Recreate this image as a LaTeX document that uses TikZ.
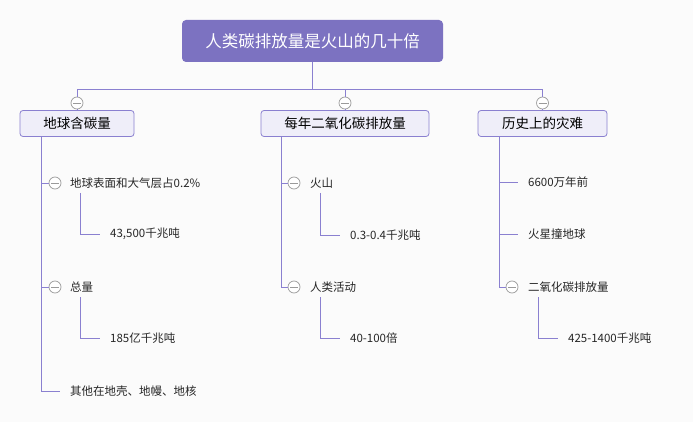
\documentclass[tikz,border=0pt]{standalone}
\usepackage{fontspec}
\setmainfont{Noto Sans CJK SC}
\definecolor{bgc}{HTML}{FBFBFB}
\definecolor{rootc}{HTML}{7C72C1}
\definecolor{linec}{HTML}{8A80D0}
\definecolor{boxf}{HTML}{EFEEF9}
\definecolor{togc}{HTML}{9A9A9A}
\tikzset{
  rootbox/.style={rectangle, rounded corners=4pt, fill=rootc, text=white, minimum width=261pt, minimum height=42pt, inner sep=0pt, font=\fontsize{16.5}{18}\selectfont},
  lvbox/.style={rectangle, rounded corners=3pt, fill=boxf, draw=linec, line width=0.8pt, minimum height=26pt, inner sep=0pt, font=\fontsize{13.5}{15}\selectfont},
  itm/.style={anchor=west, inner sep=0pt, font=\fontsize{11.5}{13}\selectfont, text=black!85},
  tog/.style={circle, draw=togc, fill=white, line width=0.7pt, minimum size=12pt, inner sep=0pt,
    path picture={\draw[togc, line width=0.7pt] ([xshift=-4pt]path picture bounding box.center) -- ([xshift=4pt]path picture bounding box.center);}},
  conn/.style={draw=linec, line width=0.9pt}
}
\begin{document}
\begin{tikzpicture}[x=1pt,y=-1pt]
\fill[bgc] (0,0) rectangle (693,422);
\useasboundingbox (0,0) rectangle (693,422);

\node[rootbox] (root) at (312.5,41) {人类碳排放量是火山的几十倍};

\node[lvbox, minimum width=114pt] (b1) at (77,123.5) {地球含碳量};
\node[lvbox, minimum width=168pt] (b2) at (345,123.5) {每年二氧化碳排放量};
\node[lvbox, minimum width=129pt] (b3) at (542.5,123.5) {历史上的灾难};

\node[tog] (tg1) at (77,103) {};
\node[tog] (tg2) at (345,103) {};
\node[tog] (tg3) at (542.5,103) {};

\draw[conn] (tg1.north) -- ++(0,-7) -| (root.south);
\draw[conn] (tg2.north) -- ++(0,-7) -| (root.south);
\draw[conn] (tg3.north) -- ++(0,-7) -| (root.south);
\draw[conn] (tg1.south) -- (b1.north);
\draw[conn] (tg2.south) -- (b2.north);
\draw[conn] (tg3.south) -- (b3.north);

% column 1
\coordinate (t1) at (41,136.5);
\node[tog] (tg11) at (55,183) {};
\node[itm] (n11) at (70,183) {地球表面和大气层占0.2\%};
\node[itm] (n12) at (110,234) {43,500千兆吨};
\node[tog] (tg13) at (55,287) {};
\node[itm] (n13) at (70,287) {总量};
\node[itm] (n14) at (110,338) {185亿千兆吨};
\node[itm] (n15) at (70,391) {其他在地壳、地幔、地核};
\coordinate (s11) at (80,193);
\coordinate (s13) at (80,297);
\draw[conn] (t1) |- (tg11.west);
\draw[conn] (t1) |- (tg13.west);
\draw[conn] (t1) |- ([xshift=-10pt]n15.west);
\draw[conn] (s11) |- ([xshift=-10pt]n12.west);
\draw[conn] (s13) |- ([xshift=-10pt]n14.west);

% column 2
\coordinate (t2) at (281,136.5);
\node[tog] (tg21) at (294,183) {};
\node[itm] (n21) at (310,183) {火山};
\node[itm] (n22) at (350,235) {0.3-0.4千兆吨};
\node[tog] (tg23) at (294,287) {};
\node[itm] (n23) at (310,287) {人类活动};
\node[itm] (n24) at (350,338) {40-100倍};
\coordinate (s21) at (320,193);
\coordinate (s23) at (320,297);
\draw[conn] (t2) |- (tg21.west);
\draw[conn] (t2) |- (tg23.west);
\draw[conn] (s21) |- ([xshift=-10pt]n22.west);
\draw[conn] (s23) |- ([xshift=-10pt]n24.west);

% column 3
\coordinate (t3) at (499,136.5);
\node[itm] (n31) at (528,182) {6600万年前};
\node[itm] (n32) at (528,234) {火星撞地球};
\node[tog] (tg33) at (512,287) {};
\node[itm] (n33) at (528,287) {二氧化碳排放量};
\node[itm] (n34) at (568,338) {425-1400千兆吨};
\coordinate (s33) at (538,297);
\draw[conn] (t3) |- ([xshift=-10pt]n31.west);
\draw[conn] (t3) |- ([xshift=-10pt]n32.west);
\draw[conn] (t3) |- (tg33.west);
\draw[conn] (s33) |- ([xshift=-10pt]n34.west);
\end{tikzpicture}
\end{document}
